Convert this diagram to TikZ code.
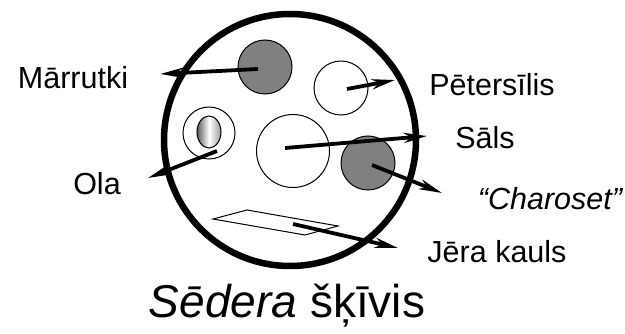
\documentclass[tikz,border=0pt]{standalone}
\usepackage{fontspec}
\setmainfont{Liberation Sans}
\usetikzlibrary{arrows.meta}
\tikzset{
  trauks/.style={circle, draw, line width=1pt, inner sep=0pt, minimum size=54pt},
  uzraksts/.style={font=\fontsize{30.5}{34}\selectfont, inner sep=0pt},
  bulta/.style={line width=3.8pt, -{Stealth[length=23pt,width=10pt,inset=7pt]}}
}
\begin{document}
\begin{tikzpicture}[x=1pt, y=-1pt, >=latex]
    \useasboundingbox (0,0) rectangle (625,334);
    % Šķīvis
    \draw[line width=6.5pt] (290,140) circle (126);
    % Ēdieni uz šķīvja
    \node[trauks, fill=black!50] (marrutki) at (265,67) {};
    \node[trauks, fill=white] (petersilis) at (341,88) {};
    \node[trauks, minimum size=73pt] (sals) at (293,151) {};
    \node[trauks, fill=black!50] (charoset) at (368,163) {};
    \node[trauks, minimum size=52pt] (ola) at (209,133) {};
    \shade[shading=axis, left color=black!65, right color=black!40, middle color=white]
        (209,132) ellipse (12 and 16);
    \draw[line width=1pt] (209,132) ellipse (12 and 16);
    \draw[line width=1pt] (213,219) -- (247,210) -- (338,226) -- (305,235) -- cycle;
    \coordinate (kauls) at (293,224);
    % Uzraksti
    \node[uzraksts] (tMarrutki) at (73,78) {Mārrutki};
    \node[uzraksts] (tOla) at (97,184) {Ola};
    \node[uzraksts] (tPetersilis) at (492,85) {Pētersīlis};
    \node[uzraksts] (tSals) at (485,138) {Sāls};
    \node[uzraksts] (tCharoset) at (550,199) {\itshape “Charoset”};
    \node[uzraksts] (tKauls) at (497,252) {Jēra kauls};
    \node[font=\fontsize{46}{50}\selectfont, inner sep=0pt] (virsraksts) at (287,306) {\textit{Sēdera} šķīvis};
    % Bultas
    \coordinate (bMarrutki) at (160,74);
    \coordinate (bOla) at (148,178);
    \coordinate (bPetersilis) at (395,80);
    \coordinate (bSals) at (427,136);
    \coordinate (bCharoset) at (442,193);
    \coordinate (bKauls) at (398,248);
    \draw[bulta] (marrutki.center) ++(-7,2) -- (bMarrutki);
    \draw[bulta] (petersilis.center) ++(6,1) -- (bPetersilis);
    \draw[bulta] (sals.center) ++(-8,-3) -- (bSals);
    \draw[bulta] (charoset.center) ++(4,2) -- (bCharoset);
    \draw[bulta] (ola.center) ++(8,18) -- (bOla);
    \draw[bulta] (kauls) -- (bKauls);
\end{tikzpicture}
\end{document}
